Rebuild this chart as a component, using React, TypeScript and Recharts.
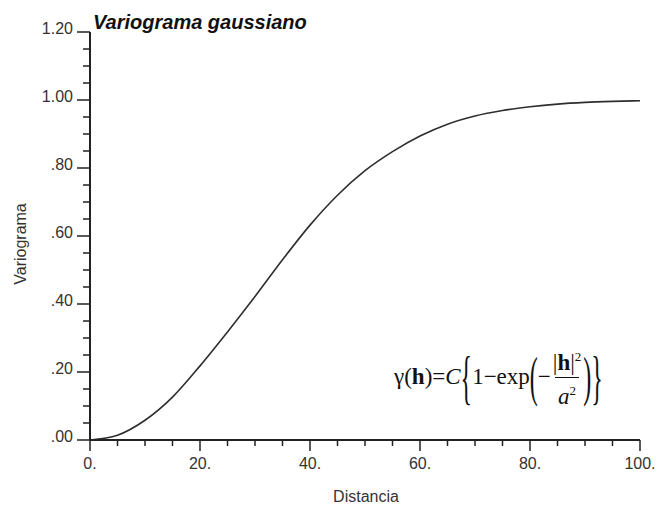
import React from 'react';
import { Line, LineChart, XAxis, YAxis } from 'recharts';

// distancia (h) and variograma
const distancia = [0, 5, 10, 15, 20, 25, 30, 35, 40, 45, 50, 55, 60, 65, 70, 75, 80, 85, 90, 95, 100];
const variograma = [0, 0.014, 0.058, 0.126, 0.218, 0.318, 0.422, 0.53, 0.632, 0.72, 0.792, 0.848, 0.894, 0.929, 0.953, 0.969, 0.98, 0.988, 0.993, 0.996, 0.998];

const xTicks = [0, 5, 10, 15, 20, 25, 30, 35, 40, 45, 50, 55, 60, 65, 70, 75, 80, 85, 90, 95, 100];
const xMajor = [0, 20, 40, 60, 80, 100];
const xTickLabels = ['0.', '20.', '40.', '60.', '80.', '100.'];

const yTicks = [0, 0.05, 0.1, 0.15, 0.2, 0.25, 0.3, 0.35, 0.4, 0.45, 0.5, 0.55, 0.6, 0.65, 0.7, 0.75, 0.8, 0.85, 0.9, 0.95, 1, 1.05, 1.1, 1.15, 1.2];
const yMajor = [0, 0.2, 0.4, 0.6, 0.8, 1, 1.2];
const yTickLabels = ['.00', '.20', '.40', '.60', '.80', '1.00', '1.20'];

const data = distancia.map((d, i) => ({ d, v: variograma[i] }));

const ink = '#222';
const font = '"Liberation Sans", Arial, sans-serif';

const majorIndex = (list: number[], v: number) => list.findIndex((m) => Math.abs(m - v) < 1e-6);

function XTick(props: any) {
  const { x, y, payload } = props;
  const idx = majorIndex(xMajor, payload.value);
  const major = idx >= 0;
  return (
    <g>
      <line x1={x} x2={x} y1={y} y2={y + (major ? 11 : 6)} stroke={ink} strokeWidth={1.5} />
      {major && (
        <text x={x} y={y + 23} textAnchor="middle" dominantBaseline="central" fontSize={16} fill="#333" fontFamily={font}>
          {xTickLabels[idx]}
        </text>
      )}
    </g>
  );
}

function YTick(props: any) {
  const { x, y, payload } = props;
  const idx = majorIndex(yMajor, payload.value);
  const major = idx >= 0;
  return (
    <g>
      <line x1={x - (major ? 13 : 7)} x2={x} y1={y} y2={y} stroke={ink} strokeWidth={1.5} />
      {major && (
        <text x={x - 17} y={y - 4} textAnchor="end" dominantBaseline="central" fontSize={16} fill="#333" fontFamily={font}>
          {yTickLabels[idx]}
        </text>
      )}
    </g>
  );
}

const bigGlyph = (ch: string, scale: number, size: number) => (
  <span style={{ display: 'inline-block', transform: `scaleY(${scale})`, fontSize: size, lineHeight: 1 }}>{ch}</span>
);

export default function App() {
  return (
    <div style={{ position: 'absolute', left: 0, top: 0, width: 657, height: 506, background: '#fff' }}>
      <LineChart width={657} height={506} data={data} margin={{ top: 32, right: 17, left: 0, bottom: 0 }}>
        <XAxis
          dataKey="d"
          type="number"
          domain={[0, 100]}
          ticks={xTicks}
          interval={0}
          height={66}
          tickSize={0}
          tickMargin={0}
          tickLine={false}
          tick={<XTick />}
          axisLine={{ stroke: ink, strokeWidth: 2 }}
          label={{
            content: () => (
              <text x={366} y={496} textAnchor="middle" dominantBaseline="central" fontSize={16} fill="#333" fontFamily={font}>
                Distancia
              </text>
            )
          }}
        />
        <YAxis
          type="number"
          domain={[0, 1.2]}
          ticks={yTicks}
          interval={0}
          width={90}
          tickSize={0}
          tickMargin={0}
          tickLine={false}
          tick={<YTick />}
          axisLine={{ stroke: ink, strokeWidth: 2 }}
          label={{
            content: () => (
              <text x={20} y={244} transform="rotate(-90 20 244)" textAnchor="middle" dominantBaseline="central" fontSize={16} fill="#333" fontFamily={font}>
                Variograma
              </text>
            )
          }}
        />
        <Line type="monotone" dataKey="v" stroke="#2e2e2e" strokeWidth={1.6} dot={false} isAnimationActive={false} />
      </LineChart>
      <div style={{ position: 'absolute', left: 93, top: 10, fontFamily: font, fontSize: 20, fontWeight: 'bold', fontStyle: 'italic', color: '#111', lineHeight: '24px' }}>
        Variograma gaussiano
      </div>
      <div
        style={{
          position: 'absolute',
          left: 394,
          top: 346,
          height: 62,
          display: 'flex',
          alignItems: 'center',
          fontFamily: '"Liberation Serif", "Times New Roman", serif',
          fontSize: 23,
          color: '#111',
          whiteSpace: 'nowrap'
        }}
      >
        <span>γ(<b>h</b>)=<i>C</i></span>
        {bigGlyph('{', 2.5, 24)}
        <span>1−exp</span>
        {bigGlyph('(', 2.3, 24)}
        <span>−</span>
        <span style={{ display: 'inline-flex', flexDirection: 'column', alignItems: 'center', margin: '0 2px' }}>
          <span style={{ lineHeight: '24px', paddingBottom: 2 }}>|<b>h</b>|<sup style={{ fontSize: 13 }}>2</sup></span>
          <span style={{ borderTop: '1px solid #111', lineHeight: '26px', padding: '0 3px' }}>
            <i>a</i><sup style={{ fontSize: 13 }}>2</sup>
          </span>
        </span>
        {bigGlyph(')', 2.3, 24)}
        {bigGlyph('}', 2.5, 24)}
      </div>
    </div>
  );
}
